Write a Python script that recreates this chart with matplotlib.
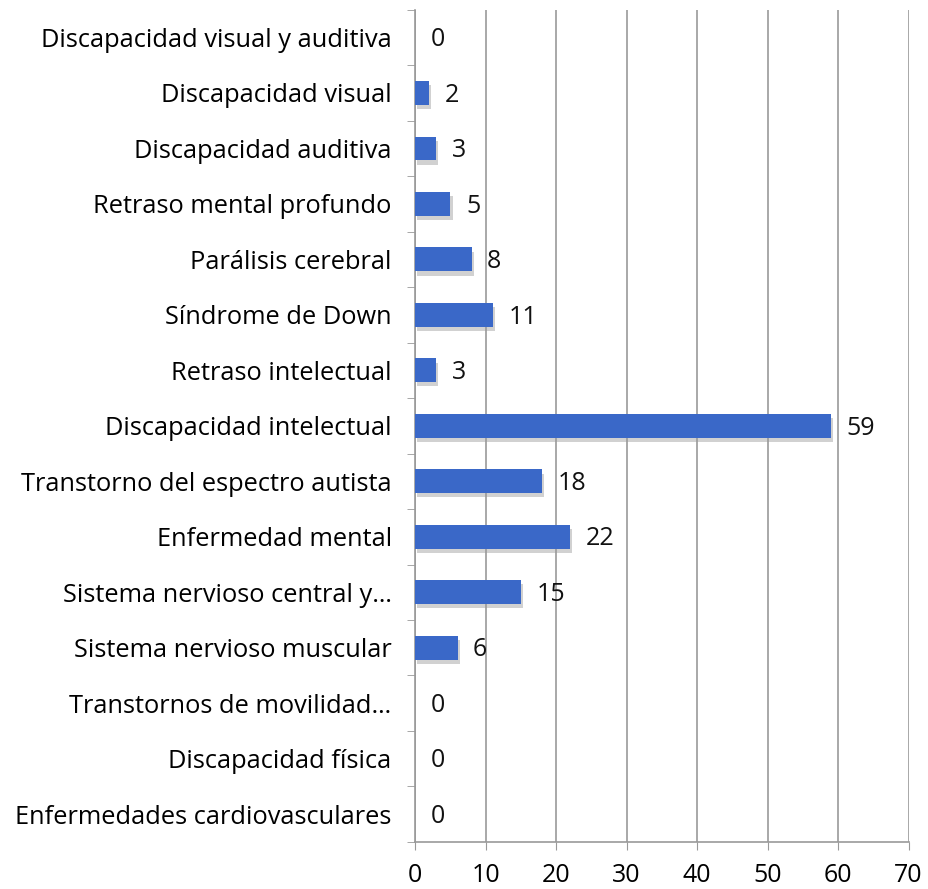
import matplotlib.pyplot as plt
import matplotlib.patheffects as pe

# Categories from top to bottom as shown in the chart
categories = [
    "Discapacidad visual y auditiva",
    "Discapacidad visual",
    "Discapacidad auditiva",
    "Retraso mental profundo",
    "Parálisis cerebral",
    "Síndrome de Down",
    "Retraso intelectual",
    "Discapacidad intelectual",
    "Transtorno del espectro autista",
    "Enfermedad mental",
    "Sistema nervioso central y…",
    "Sistema nervioso muscular",
    "Transtornos de movilidad…",
    "Discapacidad física",
    "Enfermedades cardiovasculares",
]
values = [0, 2, 3, 5, 8, 11, 3, 59, 18, 22, 15, 6, 0, 0, 0]
xticks = [0, 10, 20, 30, 40, 50, 60, 70]

plt.rcParams['font.family'] = ['Open Sans', 'DejaVu Sans']

fig = plt.figure(figsize=(9.29, 8.89), dpi=100)
ax = fig.add_axes([0.447, 0.053, 0.531, 0.936])

n = len(categories)
ypos = list(range(n))
bars = ax.barh(ypos, values, height=0.43, color='#3a68c8', linewidth=0, zorder=3)
for b, v in zip(bars, values):
    if v > 0:
        b.set_path_effects([pe.SimplePatchShadow(offset=(1.5, -3), shadow_rgbFace='#999999', alpha=0.45),
                            pe.Normal()])

for y, v in zip(ypos, values):
    ax.text(v + 2.2, y + 0.04, str(v), va='center', ha='left', fontsize=18, color='#111111')

ax.set_ylim(n - 0.5, -0.5)
ax.set_xlim(0, 70)
ax.set_xticks(xticks)
ax.set_xticklabels([str(t) for t in xticks], fontsize=18)

ax.set_yticks(ypos)
ax.set_yticklabels(categories, fontsize=18.3)
ax.tick_params(axis='y', length=0, pad=17)
# boundary tick marks between categories
ax.set_yticks([i - 0.5 for i in range(n + 1)], minor=True)
ax.tick_params(axis='y', which='minor', length=6, color='#999999', direction='out')
ax.tick_params(axis='x', length=6, color='#999999', direction='out', pad=9)

ax.grid(axis='x', color='#9a9a9a', linewidth=1.2, zorder=0)
for s in ['top', 'right']:
    ax.spines[s].set_visible(False)
ax.spines['left'].set_color('#999999')
ax.spines['bottom'].set_color('#999999')
ax.spines['left'].set_linewidth(1.2)
ax.spines['bottom'].set_linewidth(1.2)

fig.savefig('out.png', dpi=100)
